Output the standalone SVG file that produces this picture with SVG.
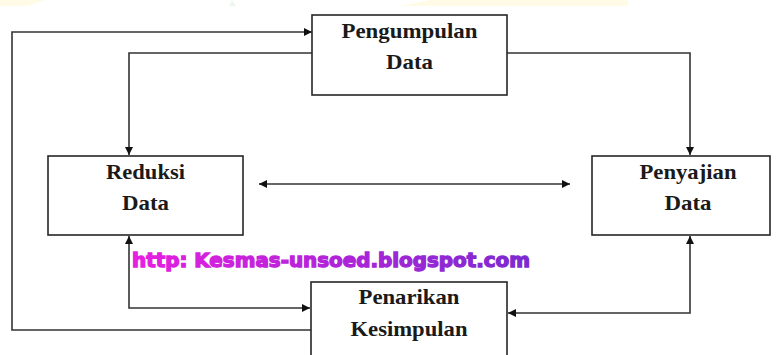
<svg xmlns="http://www.w3.org/2000/svg" width="776" height="355" viewBox="0 0 776 355">
<defs>
<marker id="ah" viewBox="0 0 10 10" refX="10" refY="5" markerWidth="9" markerHeight="8" markerUnits="userSpaceOnUse" orient="auto-start-reverse">
<path d="M0,0 L10,5 L0,10 z" fill="#111"/>
</marker>
<linearGradient id="wm" x1="0" y1="0" x2="1" y2="0">
<stop offset="0" stop-color="#e81ee0"/>
<stop offset="1" stop-color="#7a2ad0"/>
</linearGradient>
</defs>
<style>
.box{fill:#fff;stroke:#262626;stroke-width:1.6}
.lbl{font-family:"Liberation Serif","Times New Roman",serif;font-weight:bold;font-size:21px;fill:#1a1a1a;text-anchor:middle}
.con{fill:none;stroke:#333;stroke-width:1.6}
</style>
<rect x="0" y="0" width="776" height="355" fill="#fff"/>
<polygon points="0,0 45,0 28,6 0,6" fill="#fffbe6"/>
<polygon points="400,6 430,0 628,0 628,6" fill="#fffbe6"/>
<polygon points="229,6 232,0 236,6" fill="#eef6ee"/>

<g id="connectors">
<polyline class="con" points="311,330 12,330 12,32 312,32" marker-end="url(#ah)"/>
<polyline class="con" points="312,53 129,53 129,155" marker-end="url(#ah)"/>
<polyline class="con" points="507,53 690,53 690,155" marker-end="url(#ah)"/>
<line class="con" x1="259" y1="184" x2="570" y2="184" marker-start="url(#ah)" marker-end="url(#ah)"/>
<polyline class="con" points="129,236 129,308 310,308" marker-start="url(#ah)" marker-end="url(#ah)"/>
<polyline class="con" points="690,236 690,313 508,313" marker-start="url(#ah)" marker-end="url(#ah)"/>
</g>

<g id="pengumpulan">
<rect class="box" x="312" y="15" width="195" height="80"/>
<text class="lbl" x="409.5" y="38" textLength="136" lengthAdjust="spacingAndGlyphs">Pengumpulan</text>
<text class="lbl" x="409.5" y="69" textLength="47" lengthAdjust="spacingAndGlyphs">Data</text>
</g>
<g id="reduksi">
<rect class="box" x="48" y="156" width="195" height="79"/>
<text class="lbl" x="145.5" y="179" textLength="79" lengthAdjust="spacingAndGlyphs">Reduksi</text>
<text class="lbl" x="145.5" y="210" textLength="47" lengthAdjust="spacingAndGlyphs">Data</text>
</g>
<g id="penyajian">
<rect class="box" x="592" y="156" width="178" height="79"/>
<text class="lbl" x="688" y="179" textLength="97" lengthAdjust="spacingAndGlyphs">Penyajian</text>
<text class="lbl" x="688" y="210" textLength="47" lengthAdjust="spacingAndGlyphs">Data</text>
</g>
<g id="penarikan">
<rect class="box" x="311" y="282" width="196" height="80"/>
<text class="lbl" x="409" y="304" textLength="101" lengthAdjust="spacingAndGlyphs">Penarikan</text>
<text class="lbl" x="409" y="336" textLength="117" lengthAdjust="spacingAndGlyphs">Kesimpulan</text>
</g>

<text x="132" y="267" font-family="DejaVu Sans, sans-serif" font-weight="900" font-size="19" textLength="398" lengthAdjust="spacingAndGlyphs" fill="url(#wm)" stroke="url(#wm)" stroke-width="1.3">http: Kesmas-unsoed.blogspot.com</text>
</svg>
